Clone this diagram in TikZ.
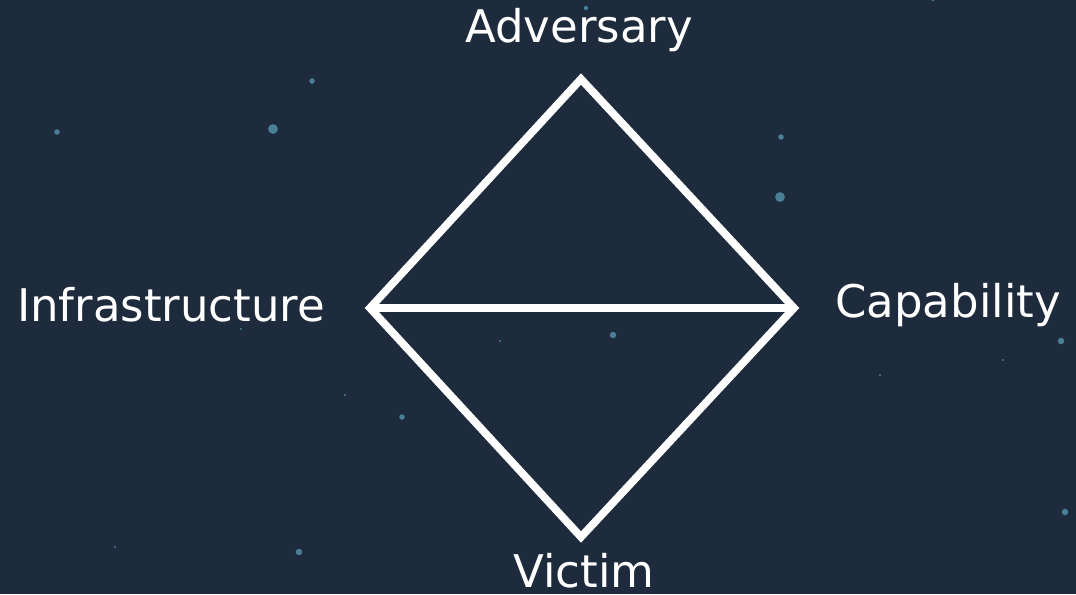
\documentclass[tikz,border=0pt]{standalone}
\usepackage{fontspec}
\usepackage{xcolor}
\usepackage{tikz}
\newfontfamily\diamondfont{DejaVu Sans}
\definecolor{bgnavy}{HTML}{1D2B3C}
\definecolor{starblue}{HTML}{4B7F95}

\begin{document}
\begin{tikzpicture}[x=0.025cm, y=-0.025cm,
        vertexlabel/.style={text=white, inner sep=0pt, anchor=base, font=\diamondfont\fontsize{32}{38}\selectfont},
        side/.style={draw=white, line width=5.5pt, line join=miter},
        star/.style={fill=starblue}
      ]
        \fill[bgnavy] (0,0) rectangle (1076,594);
        \useasboundingbox (0,0) rectangle (1076,594);
        % background dots
        \foreach \px/\py/\pr in {57/132/2.8, 273/129/5, 312/81/2.8, 586/8/2.2, 933/0/1.5,
            781/137/2.8, 780/197/5, 241/329/1.2, 345/395/1.2, 500/341/1.2, 613/335/3.3,
            1061/341/3.3, 1003/360/1.2, 880/375/1.2, 115/547/1.2, 299/552/3.3, 402/417/2.8, 1065/512/3.3}
          \fill[star] (\px,\py) circle[radius=\pr*0.7pt];
        \coordinate (top) at (581,79);
        \coordinate (left) at (370,308);
        \coordinate (right) at (794,308);
        \coordinate (bottom) at (581,537);
        \draw[side] (top) -- (left) -- (bottom) -- (right) -- cycle;
        \draw[side] (left) -- (right);
        \node[vertexlabel] (adversary) at (579,42) {Adversary};
        \node[vertexlabel] (infra) at (171,321) {Infrastructure};
        \node[vertexlabel] (capability) at (948,317) {Capability};
        \node[vertexlabel] (victim) at (584,587) {Victim};
      \end{tikzpicture}
\end{document}
